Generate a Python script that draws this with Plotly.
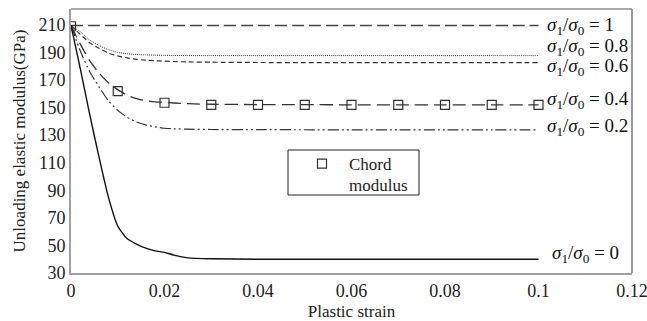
import plotly.graph_objects as go

strain = [0, 0.002, 0.004, 0.006, 0.008, 0.01, 0.012, 0.014, 0.016, 0.018, 0.02, 0.022, 0.025, 0.03, 0.04, 0.05, 0.06, 0.07, 0.08, 0.09, 0.1]
e_s1 = [209.5] * len(strain)
e_s08 = [209.5, 205, 199, 195, 192, 190, 189, 188.5, 188.2, 188, 187.9, 187.8, 187.7, 187.7, 187.7, 187.7, 187.7, 187.7, 187.7, 187.7, 187.7]
e_s06 = [209.5, 203, 197, 193, 189.5, 187.5, 186, 185, 184.4, 184, 183.7, 183.4, 183.1, 182.9, 182.7, 182.6, 182.6, 182.6, 182.6, 182.6, 182.6]
e_s04 = [209.5, 196, 184, 175, 168, 163, 159, 156.5, 155, 154.2, 153.8, 153.3, 152.8, 152.4, 152.2, 152.1, 152, 152, 152, 152, 152]
e_s02 = [209.5, 191, 176, 165, 155, 148, 143, 139.5, 137.5, 136, 135, 134.6, 134.3, 134.1, 134, 133.9, 133.8, 133.8, 133.8, 133.8, 133.8]
e_s0 = [209.5, 178, 145, 114, 85, 64, 55, 51, 48, 46, 45, 43, 41, 40.3, 40, 40, 40, 40, 40, 40, 40]

chord_x = [0, 0.01, 0.02, 0.03, 0.04, 0.05, 0.06, 0.07, 0.08, 0.09, 0.1]
chord_y = [209, 162, 153.5, 152, 152, 152, 152, 152, 152, 152, 152]

labels = ["1", "0.8", "0.6", "0.4", "0.2", "0"]
label_y = [209.5, 194, 179.5, 155.5, 136, 44]
x_ticks = [0, 0.02, 0.04, 0.06, 0.08, 0.1, 0.12]
y_ticks = [30, 50, 70, 90, 110, 130, 150, 170, 190, 210]

FONT = "Liberation Serif"
fig = go.Figure()

def add_line(y, dash, width=1.3, color="#333"):
    fig.add_trace(go.Scatter(x=strain, y=y, mode="lines", showlegend=False,
                             line=dict(color=color, width=width, dash=dash, shape="spline", smoothing=0.6)))

add_line(e_s1, "12px,5px", 1.5, "#444")
add_line(e_s08, "1px,1px", 1.0, "#333")
add_line(e_s06, "5px,3px", 1.2, "#333")
add_line(e_s04, "13px,6px", 1.3, "#333")
add_line(e_s02, "11px,3px,2px,3px,2px,3px", 1.2, "#333")
add_line(e_s0, "solid", 1.4, "#111")

fig.add_trace(go.Scatter(x=chord_x, y=chord_y, mode="markers", name="Chord",
                         marker=dict(symbol="square-open", size=9, color="#333", line=dict(width=1.2))))

for lab, ly in zip(labels, label_y):
    fig.add_annotation(x=0.1, y=ly, xref="x", yref="y", xanchor="left", yanchor="middle",
                       xshift=6 if lab != "0" else 11, showarrow=False,
                       text=f"<i>σ</i><sub>1</sub>/<i>σ</i><sub>0</sub> = {lab}",
                       font=dict(family=FONT, size=19, color="#111"))

# plot frame (top/right)
fig.add_shape(type="line", xref="paper", yref="paper", x0=0, x1=1, y0=1, y1=1, line=dict(color="#555", width=1.2))
fig.add_shape(type="line", xref="paper", yref="paper", x0=1, x1=1, y0=0, y1=1, line=dict(color="#777", width=1.5))
# legend frame + second legend line
PW, PH = 561.0, 264.0
fig.add_shape(type="rect", xref="paper", yref="paper", x0=(288 - 71) / PW, x1=(419 - 71) / PW,
              y0=(273 - 195) / PH, y1=(273 - 150) / PH, line=dict(color="#222", width=1), fillcolor="rgba(0,0,0,0)")
fig.add_annotation(x=(347 - 71) / PW, y=(273 - 185) / PH, xref="paper", yref="paper", xanchor="left",
                   yanchor="middle", showarrow=False, text="modulus", font=dict(family=FONT, size=17, color="#222"))

fig.update_layout(
    width=647, height=321, margin=dict(l=71, r=15, t=9, b=48),
    plot_bgcolor="white", paper_bgcolor="white",
    font=dict(family=FONT, size=17, color="#222"),
    legend=dict(x=(295 - 71) / PW, y=(273 - 146) / PH, xanchor="left", yanchor="top", borderwidth=0,
                bgcolor="rgba(0,0,0,0)", font=dict(family=FONT, size=17, color="#222"), itemwidth=44),
    xaxis=dict(range=[0, 0.12], tickvals=x_ticks, ticktext=[str(v) for v in x_ticks], automargin=False,
               ticklabeloverflow="allow",
               showgrid=False, zeroline=False, showline=True, linecolor="#a0a0a0", linewidth=2,
               ticks="", tickfont=dict(size=18), title=dict(text="Plastic strain", standoff=12, font=dict(size=17))),
    yaxis=dict(range=[30, 221.5], tickvals=y_ticks, showgrid=False, zeroline=False, showline=True,
               linecolor="#a0a0a0", linewidth=2, ticks="", automargin=False, tickfont=dict(size=18),
               title=dict(text="Unloading elastic modulus(GPa)", standoff=8, font=dict(size=17))),
)

fig.write_html("out.html")
